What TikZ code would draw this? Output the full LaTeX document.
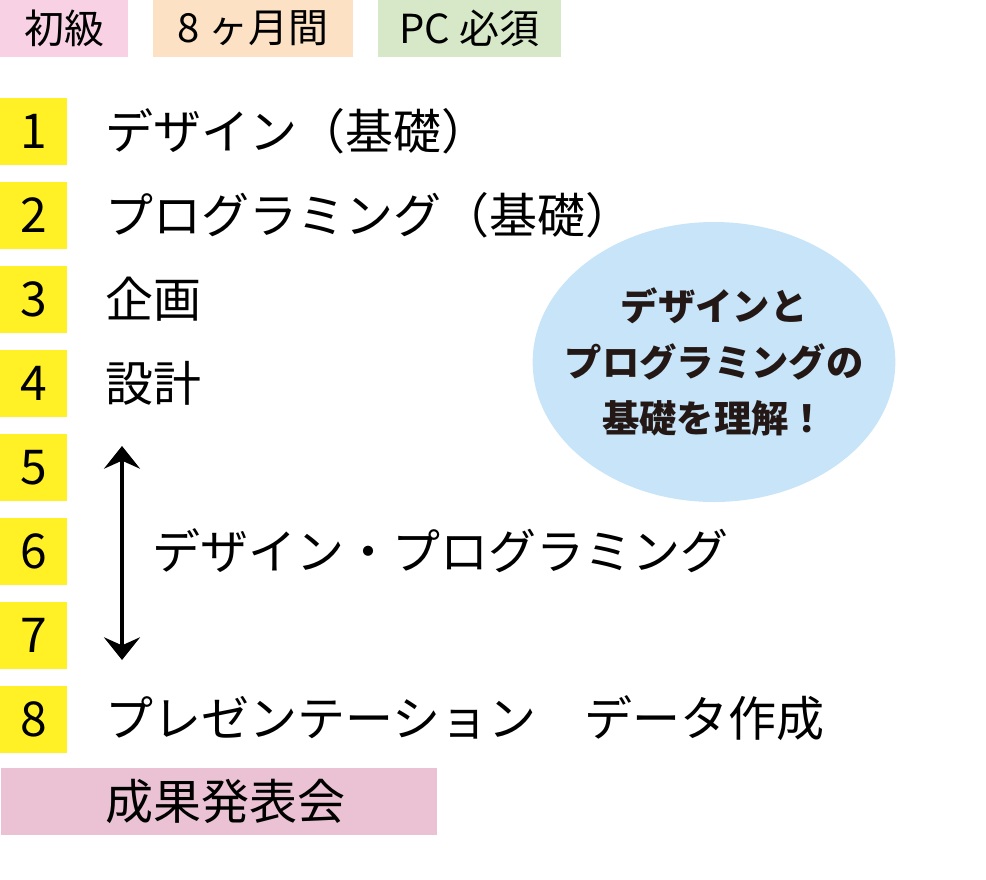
\documentclass[tikz,border=0pt]{standalone}
\usepackage{fontspec}
\setmainfont{Noto Sans CJK JP}
\usetikzlibrary{arrows.meta}
\definecolor{tagpink}{HTML}{F8D1E4}
\definecolor{tagpeach}{HTML}{FCE1C4}
\definecolor{taggreen}{HTML}{D7E8C8}
\definecolor{numyellow}{HTML}{FFF125}
\definecolor{resultpink}{HTML}{EBC2D3}
\definecolor{goalblue}{HTML}{C7E4F8}
\definecolor{goaltext}{HTML}{231815}
\tikzset{tag/.style={fill,minimum height=43pt,inner sep=0pt,font=\fontsize{30}{36}\selectfont},
  num/.style={fill=numyellow,minimum width=50pt,minimum height=50pt,inner sep=0pt,font=\fontsize{36}{40}\selectfont},
  item/.style={anchor=west,inner sep=0pt,font=\fontsize{36}{40}\selectfont},
  goal/.style={align=center,text=goaltext,font=\fontsize{28}{42}\selectfont\bfseries}}

\begin{document}
\begin{tikzpicture}[>=Stealth,x=0.75pt,y=-0.75pt]
  \useasboundingbox (0,0) rectangle (986,879);
  \node[tag,fill=tagpink,minimum width=96pt] (level) at (64,28.5) {初級};
  \node[tag,fill=tagpeach,minimum width=150pt] (term) at (253,28.5) {8 ヶ月間};
  \node[tag,fill=taggreen,minimum width=137pt] (pc) at (469.5,28.5) {PC 必須};

  \foreach \n in {1,...,8}
    \node[num] (n\n) at (33.5,{131.5+84*(\n-1)}) {\n};

  \node[item] (t1) at (105,131.5) {デザイン（基礎）};
  \node[item] (t2) at (105,215.5) {プログラミング（基礎）};
  \node[item] (t3) at (105,299.5) {企画};
  \node[item] (t4) at (105,383.5) {設計};
  \node[item] (t6) at (152,551) {デザイン・プログラミング};
  \node[item] (t8) at (105,718) {プレゼンテーション　データ作成};

  \coordinate (up) at (122,446);
  \coordinate (down) at (122,660);
  \draw[{Stealth[length=17pt,width=27pt,inset=6pt]}-{Stealth[length=17pt,width=27pt,inset=6pt]},line width=2.5pt] (up) -- (down);

  \node[fill=resultpink,minimum width=327pt,minimum height=50pt,inner sep=0pt] (result) at (219,801.5) {};
  \node[item] (show) at (105,801.5) {成果発表会};

  \coordinate (centre) at (714,362);
  \fill[goalblue] (centre) ellipse [x radius=136pt,y radius=105pt];
  \node[goal] (goal) at (centre) {デザインと\\プログラミングの\\基礎を理解！};
\end{tikzpicture}
\end{document}
